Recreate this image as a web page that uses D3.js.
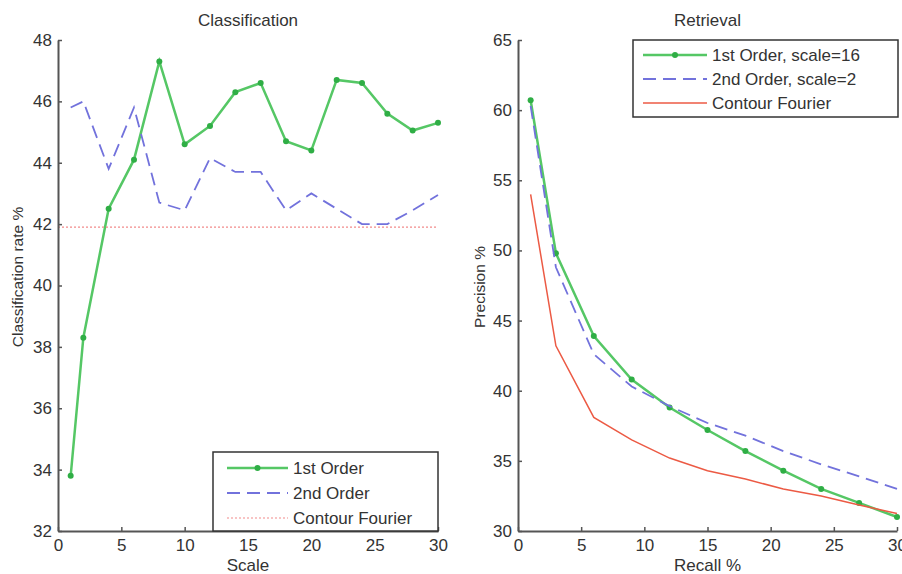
<!DOCTYPE html>
<html>
<head>
<meta charset="utf-8">
<script src="https://cdn.jsdelivr.net/npm/d3@7"></script>
<style>
body { margin: 0; background: #fff; }
svg { font-family: "Liberation Sans", Arial, sans-serif; }
</style>
</head>
<body>
<div id="chart"></div>
<script>
// left panel: classification rate vs scale
var scales = [1, 2, 4, 6, 8, 10, 12, 14, 16, 18, 20, 22, 24, 26, 28, 30];
var firstOrder = [33.8, 38.3, 42.5, 44.1, 47.3, 44.6, 45.2, 46.3, 46.6, 44.7, 44.4, 46.7, 46.6, 45.6, 45.05, 45.3];
var secondOrder = [45.8, 46.0, 43.8, 45.8, 42.7, 42.45, 44.15, 43.7, 43.7, 42.45, 43.0, 42.5, 42.0, 42.0, 42.45, 42.95];
var fourierX = [0, 30];
var fourierRate = [41.9, 41.9];

// right panel: precision vs recall
var recall = [1, 3, 6, 9, 12, 15, 18, 21, 24, 27, 30];
var prec1st = [60.7, 49.8, 43.9, 40.8, 38.8, 37.2, 35.7, 34.3, 33.0, 32.0, 31.0];
var prec2nd = [60.3, 48.8, 42.6, 40.3, 38.9, 37.7, 36.8, 35.7, 34.75, 33.9, 33.0];
var precFourier = [54.0, 43.2, 38.1, 36.5, 35.2, 34.3, 33.7, 33.0, 32.5, 31.85, 31.25];

var xTicks = [0, 5, 10, 15, 20, 25, 30];
var leftYTicks = [32, 34, 36, 38, 40, 42, 44, 46, 48];
var rightYTicks = [30, 35, 40, 45, 50, 55, 60, 65];

var leftLegend = ["1st Order", "2nd Order", "Contour Fourier"];
var rightLegend = ["1st Order, scale=16", "2nd Order, scale=2", "Contour Fourier"];

var green = "#55c765";
var greenDot = "#2fae45";
var blue = "#7272dc";
var red = "#ec5a44";
var pink = "#f28a8a";
var textCol = "#333";

var w = 902, h = 574;

var svg = d3.select("#chart")
    .append("svg")
    .attr("width", w)
    .attr("height", h);

function zip(xs, ys) {
    return xs.map(function(x, i) { return [x, ys[i]]; });
}

var panel = function(opt)
{
    var x = d3.scaleLinear().domain([0, 30]).range([opt.left, opt.right]);
    var y = d3.scaleLinear().domain(opt.yDomain).range([531, 40]);

    var g = svg.append("g");

    var line = d3.line()
        .x(function(d) { return x(d[0]); })
        .y(function(d) { return y(d[1]); });

    opt.series.forEach(function(s) {
        g.append("path")
            .datum(zip(s.x, s.y))
            .attr("fill", "none")
            .attr("stroke", s.color)
            .attr("stroke-width", s.width)
            .attr("stroke-dasharray", s.dash || null)
            .attr("d", line);
        if (s.markers) {
            g.selectAll(null)
                .data(zip(s.x, s.y))
                .enter()
                .append("circle")
                .attr("cx", function(d) { return x(d[0]); })
                .attr("cy", function(d) { return y(d[1]); })
                .attr("r", 3)
                .attr("fill", greenDot);
        }
    });

    var xAxis = g.append("g")
        .attr("transform", "translate(0,531)")
        .call(d3.axisBottom(x).tickValues(xTicks).tickSize(-4).tickSizeOuter(0).tickPadding(8));
    var yAxis = g.append("g")
        .attr("transform", "translate(" + opt.left + ",0)")
        .call(d3.axisLeft(y).tickValues(opt.yTicks).tickSize(-4).tickSizeOuter(0).tickPadding(6));

    [xAxis, yAxis].forEach(function(a) {
        a.select(".domain").attr("stroke", "#555").attr("stroke-width", 2);
        a.selectAll(".tick line").attr("stroke", "#555").attr("stroke-width", 1.5);
        a.selectAll(".tick text")
            .attr("fill", textCol)
            .style("font-size", "17px")
            .style("font-family", "'Liberation Sans', Arial, sans-serif");
    });

    g.append("text")
        .attr("x", (opt.left + opt.right) / 2)
        .attr("y", 26)
        .attr("text-anchor", "middle")
        .attr("fill", textCol)
        .style("font-size", "17px")
        .text(opt.title);

    g.append("text")
        .attr("x", (opt.left + opt.right) / 2)
        .attr("y", 571)
        .attr("text-anchor", "middle")
        .attr("fill", textCol)
        .style("font-size", "17px")
        .text(opt.xLabel);

    g.append("text")
        .attr("transform", "translate(" + opt.yLabelX + "," + opt.yLabelY + ") rotate(-90)")
        .attr("text-anchor", "middle")
        .attr("fill", textCol)
        .style("font-size", "15.5px")
        .text(opt.yLabel);

    // legend
    var lg = opt.legend;
    g.append("rect")
        .attr("x", lg.x0)
        .attr("y", lg.y0)
        .attr("width", lg.x1 - lg.x0)
        .attr("height", lg.y1 - lg.y0)
        .attr("fill", "#fff")
        .attr("stroke", "#333")
        .attr("stroke-width", 1.5);

    var items = g.selectAll("g.leg")
        .data(opt.series)
        .enter()
        .append("g")
        .attr("class", "leg")
        .attr("transform", function(d, i) { return "translate(0," + lg.rows[i] + ")"; });

    items.append("line")
        .attr("x1", lg.lx0)
        .attr("x2", lg.lx1)
        .attr("stroke", function(d) { return d.color; })
        .attr("stroke-width", function(d) { return d.width; })
        .attr("stroke-dasharray", function(d) { return d.dash || null; });

    items.filter(function(d) { return d.markers; })
        .append("circle")
        .attr("cx", (lg.lx0 + lg.lx1) / 2)
        .attr("r", 3)
        .attr("fill", greenDot);

    items.append("text")
        .attr("x", lg.lx1 + 5)
        .attr("dy", "0.35em")
        .attr("fill", textCol)
        .style("font-size", "17px")
        .text(function(d, i) { return lg.labels[i]; });
}

panel({
    left: 58, right: 438,
    yDomain: [32, 48],
    yTicks: leftYTicks,
    title: "Classification",
    xLabel: "Scale",
    yLabel: "Classification rate %",
    yLabelX: 23, yLabelY: 277,
    series: [
        {x: scales, y: firstOrder, color: green, width: 2.5, markers: true},
        {x: scales, y: secondOrder, color: blue, width: 1.8, dash: "13,7"},
        {x: fourierX, y: fourierRate, color: pink, width: 1.2, dash: "2,2"}
    ],
    legend: {x0: 213, x1: 438, y0: 452, y1: 531, rows: [468, 493, 518], lx0: 227, lx1: 288, labels: leftLegend}
});

panel({
    left: 518, right: 897,
    yDomain: [30, 65],
    yTicks: rightYTicks,
    title: "Retrieval",
    xLabel: "Recall %",
    yLabel: "Precision %",
    yLabelX: 485, yLabelY: 287,
    series: [
        {x: recall, y: prec1st, color: green, width: 2.5, markers: true},
        {x: recall, y: prec2nd, color: blue, width: 1.8, dash: "13,7"},
        {x: recall, y: precFourier, color: red, width: 1.5}
    ],
    legend: {x0: 633, x1: 898, y0: 40, y1: 117, rows: [55, 79, 103], lx0: 643, lx1: 707, labels: rightLegend}
});
</script>
</body>
</html>
